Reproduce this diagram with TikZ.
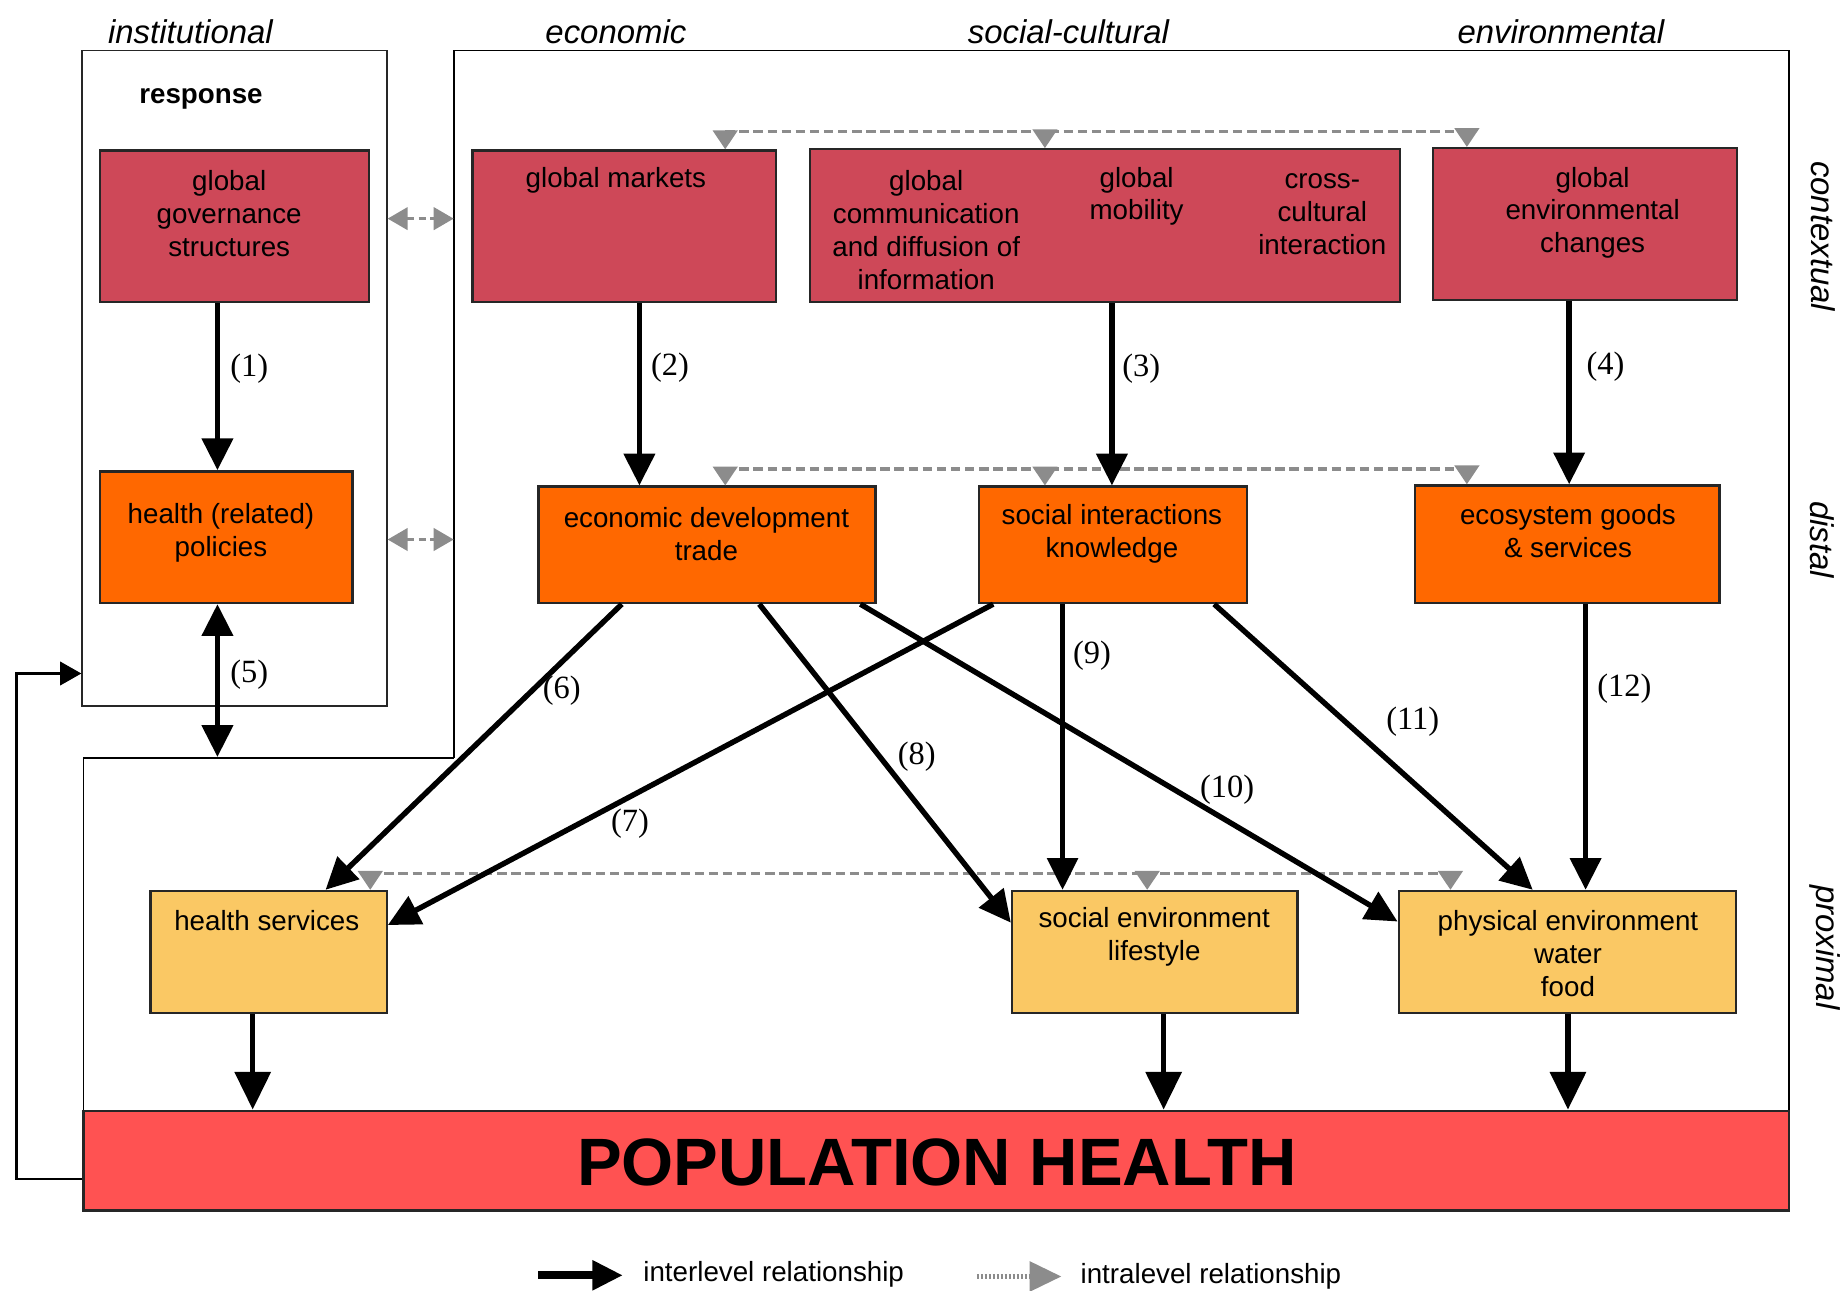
\documentclass[tikz,border=0pt]{standalone}
\usepackage{fontspec}
\setmainfont{Liberation Sans}
\newfontfamily\numfont{Liberation Serif}
\usetikzlibrary{arrows.meta,fit}
\definecolor{ctxred}{RGB}{206,72,88}
\definecolor{distor}{RGB}{255,104,0}
\definecolor{proxyl}{RGB}{250,200,100}
\definecolor{pophr}{RGB}{255,82,82}
\definecolor{intra}{RGB}{140,140,140}
\begin{document}
\begin{tikzpicture}[x=0.5pt,y=-0.5pt,
  box/.style={draw=black!85, line width=1pt, inner sep=0pt},
  ctx/.style={box, fill=ctxred},
  dst/.style={box, fill=distor},
  prx/.style={box, fill=proxyl},
  txt/.style={align=center, font=\fontsize{11.8}{14}\selectfont, inner sep=0pt},
  colhead/.style={font=\fontsize{14}{16}\selectfont\itshape, inner sep=0pt},
  num/.style={font=\fontsize{13.8}{16}\selectfont\numfont, inner sep=0pt},
  frame/.style={line width=0.8pt},
  inter/.style={line width=2.3pt, -{Triangle[width=13pt,length=13.5pt]}},
  interbig/.style={line width=2.3pt, -{Triangle[width=15pt,length=16pt]}},
  intraline/.style={draw=intra, line width=1.3pt, dash pattern=on 4pt off 2pt},
  intratip/.style={draw=intra, line width=1pt, -{Triangle[width=10.5pt,length=8pt]}},
  intradbl/.style={draw=intra, line width=1.3pt, dash pattern=on 3pt off 2pt,
    {Triangle[width=9.5pt,length=8.5pt]}-{Triangle[width=9.5pt,length=8.5pt]}},
  fb/.style={line width=0.9pt, -{Triangle[width=10pt,length=9pt]}}
]
\useasboundingbox (0,0) rectangle (1568,1098);

% column headings
\node[colhead] (hInst) at (162,27) {institutional};
\node[colhead] (hEco) at (524,27) {economic};
\node[colhead] (hSoc) at (909,27) {social-cultural};
\node[colhead] (hEnv) at (1328,27) {environmental};
% level labels
\node[colhead, rotate=-90] (lCtx) at (1551,201) {contextual};
\node[colhead, rotate=-90] (lDst) at (1550,459) {distal};
\node[colhead, rotate=-90] (lPrx) at (1553,806) {proximal};

% frames
\node[box, line width=0.8pt, fit={(70,43) (329,601)}] (inst) {};
\draw[frame] (386,645) -- (386,43) -- (1522,43) -- (1522,945);
\draw[frame] (71,945) -- (71,645) -- (386,645);
\coordinate (fr1) at (386,186);
\coordinate (fr2) at (386,459);
\coordinate (lowframe) at (185,644);

\node[font=\fontsize{11.8}{14}\selectfont\bfseries, inner sep=0pt] (resp) at (171,84) {response};

% contextual boxes
\node[ctx, fit={(85,128) (314,257)}] (gov) {};
\node[ctx, fit={(402,128) (660,257)}] (mkt) {};
\node[ctx, fit={(689,127) (1191,257)}] (comm) {};
\node[ctx, fit={(1219,126) (1478,255)}] (envc) {};
\node[txt] (tgov) at (195,182) {global\\governance\\structures};
\node[txt] (tmkt) at (524,153) {global markets};
\node[txt] (tcomm) at (788,196) {global\\communication\\and diffusion of\\information};
\node[txt] (tmob) at (967,167) {global\\mobility};
\node[txt] (tcross) at (1125,182) {cross-\\cultural\\interaction};
\node[txt] (tenvc) at (1355,181) {global\\environmental\\changes};

% distal boxes
\node[dst, fit={(85,401) (300,513)}] (pol) {};
\node[dst, fit={(458,414) (745,513)}] (econ) {};
\node[dst, fit={(833,414) (1061,513)}] (soc) {};
\node[dst, fit={(1204,413) (1463,513)}] (eco) {};
\node[txt] (tpol) at (188,453) {health (related)\\policies};
\node[txt] (tecon) at (601,454) {economic development\\trade};
\node[txt] (tsoc) at (946,454) {social interactions\\knowledge};
\node[txt] (teco) at (1334,452) {ecosystem goods\\\& services};

% proximal boxes
\node[prx, fit={(128,758) (329,862)}] (hs) {};
\node[prx, fit={(861,758) (1104,862)}] (senv) {};
\node[prx, fit={(1190,758) (1477,862)}] (penv) {};
\node[txt] (ths) at (227,783) {health services};
\node[txt] (tsenv) at (982,797) {social environment\\lifestyle};
\node[txt] (tpenv) at (1334,811) {physical environment\\water\\food};

% population health
\node[box, fill=pophr, fit={(71,945) (1522,1030)}] (pop) {};
\node[font=\fontsize{28.5}{32}\selectfont\bfseries, inner sep=0pt] (tpop) at (797,989) {POPULATION HEALTH};

% intralevel relations
\coordinate (t1) at (617,112); \coordinate (t2) at (889,112); \coordinate (t3) at (1248,112);
\draw[intraline] (t1) -- (t3);
\draw[intratip] (t1) -- (t1 |- mkt.north);
\draw[intratip] (t2) -- (t2 |- comm.north);
\draw[intratip] (t3) -- (t3 |- envc.north);
\coordinate (m1) at (617,399); \coordinate (m2) at (889,399); \coordinate (m3) at (1248,399);
\draw[intraline] (m1) -- (m3);
\draw[intratip] (m1) -- (m1 |- econ.north);
\draw[intratip] (m2) -- (m2 |- soc.north);
\draw[intratip] (m3) -- (m3 |- eco.north);
\coordinate (b1) at (315,743); \coordinate (b2) at (976,743); \coordinate (b3) at (1234,743);
\draw[intraline] (b1) -- (b3);
\draw[intratip] (b1) -- (b1 |- hs.north);
\draw[intratip] (b2) -- (b2 |- senv.north);
\draw[intratip] (b3) -- (b3 |- penv.north);
\draw[intradbl] (inst.east |- fr1) -- (fr1);
\draw[intradbl] (inst.east |- fr2) -- (fr2);

% interlevel relations
\draw[inter] (gov.south -| 185,0) -- (pol.north -| 185,0);
\draw[inter] (mkt.south -| 544,0) -- (econ.north -| 544,0);
\draw[inter] (comm.south -| 946,0) -- (soc.north -| 946,0);
\draw[inter] (envc.south -| 1335,0) -- (eco.north -| 1335,0);
\draw[line width=2.3pt, {Triangle[width=13pt,length=13.5pt]}-{Triangle[width=13pt,length=13.5pt]}] (pol.south -| 185,0) -- (lowframe);
\draw[inter] (econ.south -| 529,0) -- (hs.north -| 277,0);
\draw[inter] (soc.south -| 845,0) -- (hs.east |- 0,787);
\draw[inter] (econ.south -| 646,0) -- (senv.west |- 0,785);
\draw[inter, line width=1.9pt] (soc.south -| 904,0) -- (senv.north -| 904,0);
\draw[inter] (econ.south -| 732,0) -- (penv.west |- 0,784);
\draw[inter] (soc.south -| 1033,0) -- (penv.north -| 1304,0);
\draw[inter] (eco.south -| 1349,0) -- (penv.north -| 1349,0);
\draw[interbig] (hs.south -| 215,0) -- (pop.north -| 215,0);
\draw[interbig] (senv.south -| 990,0) -- (pop.north -| 990,0);
\draw[interbig] (penv.south -| 1334,0) -- (pop.north -| 1334,0);

% feedback
\draw[fb] (pop.west |- 0,1003) -- (14,1003) -- (14,573) -- (inst.west |- 0,573);

% labels
\node[num] (n1) at (212,314) {(1)};
\node[num] (n2) at (570,313) {(2)};
\node[num] (n3) at (971,314) {(3)};
\node[num] (n4) at (1366,312) {(4)};
\node[num] (n5) at (212,574) {(5)};
\node[num] (n6) at (478,588) {(6)};
\node[num] (n7) at (536,701) {(7)};
\node[num] (n8) at (780,644) {(8)};
\node[num] (n9) at (929,558) {(9)};
\node[num] (n10) at (1044,672) {(10)};
\node[num] (n11) at (1202,614) {(11)};
\node[num] (n12) at (1382,586) {(12)};

% legend
\coordinate (lg1) at (458,1085); \coordinate (lg2) at (530,1085);
\draw[line width=3.5pt, -{Triangle[width=12pt,length=13pt]}] (lg1) -- (lg2);
\node[txt, anchor=west] (lgt1) at (547,1084) {interlevel relationship};
\coordinate (lg3) at (831,1086); \coordinate (lg4) at (903,1086);
\draw[draw=intra, line width=2pt, dash pattern=on 1pt off 0.7pt, -{Triangle[width=12.5pt,length=13.5pt]}] (lg3) -- (lg4);
\node[txt, anchor=west] (lgt2) at (919,1086) {intralevel relationship};
\end{tikzpicture}
\end{document}
